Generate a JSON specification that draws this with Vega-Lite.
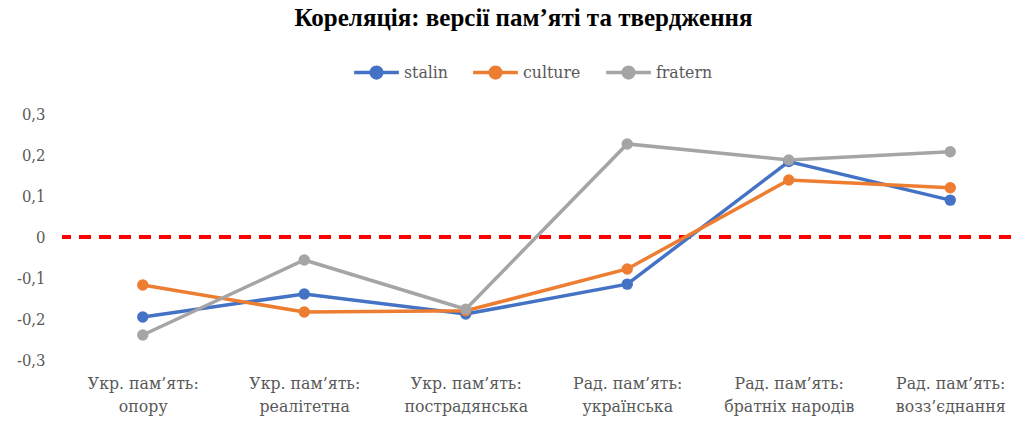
{
  "$schema": "https://vega.github.io/schema/vega-lite/v6.json",
  "width": 969,
  "height": 246,
  "autosize": {"type": "none"},
  "padding": {"left": 62, "top": 114, "right": 0, "bottom": 64},
  "background": "white",
  "title": {
    "text": "Кореляція: версії пам’яті та  твердження",
    "font": "Liberation Serif",
    "fontSize": 25,
    "fontWeight": "bold",
    "color": "#000000",
    "anchor": "middle",
    "dx": -23,
    "offset": 17
  },
  "config": {
    "view": {"stroke": null},
    "axis": {"labelFont": "DejaVu Serif Condensed", "labelFontSize": 16, "labelColor": "#595959", "grid": false, "domain": false, "ticks": false}
  },
  "data": {
    "values": [
      {"cat": "Укр. пам’ять: опору", "series": "stalin", "value": -0.195},
      {"cat": "Укр. пам’ять: опору", "series": "culture", "value": -0.117},
      {"cat": "Укр. пам’ять: опору", "series": "fratern", "value": -0.239},
      {"cat": "Укр. пам’ять: реалітетна", "series": "stalin", "value": -0.139},
      {"cat": "Укр. пам’ять: реалітетна", "series": "culture", "value": -0.183},
      {"cat": "Укр. пам’ять: реалітетна", "series": "fratern", "value": -0.056},
      {"cat": "Укр. пам’ять: пострадянська", "series": "stalin", "value": -0.188},
      {"cat": "Укр. пам’ять: пострадянська", "series": "culture", "value": -0.180},
      {"cat": "Укр. пам’ять: пострадянська", "series": "fratern", "value": -0.176},
      {"cat": "Рад. пам’ять: українська", "series": "stalin", "value": -0.115},
      {"cat": "Рад. пам’ять: українська", "series": "culture", "value": -0.078},
      {"cat": "Рад. пам’ять: українська", "series": "fratern", "value": 0.227},
      {"cat": "Рад. пам’ять: братніх народів", "series": "stalin", "value": 0.184},
      {"cat": "Рад. пам’ять: братніх народів", "series": "culture", "value": 0.139},
      {"cat": "Рад. пам’ять: братніх народів", "series": "fratern", "value": 0.188},
      {"cat": "Рад. пам’ять: возз’єднання", "series": "stalin", "value": 0.090},
      {"cat": "Рад. пам’ять: возз’єднання", "series": "culture", "value": 0.120},
      {"cat": "Рад. пам’ять: возз’єднання", "series": "fratern", "value": 0.208}
    ]
  },
  "layer": [
    {
      "mark": {"type": "rule", "color": "#FF0000", "strokeWidth": 2.5, "strokeDash": [12, 8]},
      "encoding": {"y": {"datum": 0, "type": "quantitative", "scale": {"domain": [-0.3, 0.3]}}}
    },
    {
      "mark": {"type": "line", "strokeWidth": 3.5, "point": {"filled": true, "size": 130, "opacity": 1}},
      "encoding": {
        "x": {
          "field": "cat", "type": "nominal", "sort": null, "title": null,
          "scale": {"paddingInner": 0, "paddingOuter": 0.5},
          "axis": {
            "labelAngle": 0, "labelPadding": 14, "labelLineHeight": 23, "labelLimit": 300, "labelFontSize": 17.5,
            "labelExpr": "[slice(datum.value, 0, indexof(datum.value, ':') + 1), slice(datum.value, indexof(datum.value, ':') + 2)]"
          }
        },
        "y": {
          "field": "value", "type": "quantitative", "title": null,
          "scale": {"domain": [-0.3, 0.3], "nice": false, "zero": false},
          "axis": {
            "values": [-0.3, -0.2, -0.1, 0, 0.1, 0.2, 0.3],
            "labelPadding": 17, "labelFontSize": 16.5,
            "labelExpr": "datum.value == 0 ? '0' : replace(replace(format(datum.value, '.1f'), '.', ','), '−', '-')"
          }
        },
        "color": {
          "field": "series", "type": "nominal",
          "scale": {"domain": ["stalin", "culture", "fratern"], "range": ["#4472C4", "#ED7D31", "#A5A5A5"]},
          "legend": {
            "title": null, "orient": "none", "direction": "horizontal",
            "legendX": 290, "legendY": -66,
            "labelFont": "DejaVu Serif Condensed", "labelFontSize": 17.5, "labelColor": "#595959",
            "symbolType": "M-1,0L1,0M0.24,0A0.24,0.24,0,1,1,-0.24,0A0.24,0.24,0,1,1,0.24,0Z",
            "symbolSize": 2000, "symbolStrokeWidth": 3.5, "columnPadding": 18, "labelOffset": 3,
            "encode": {"symbols": {"update": {"fill": {"scale": "color", "field": "value"}, "stroke": {"scale": "color", "field": "value"}, "opacity": {"value": 1}}}}
          }
        }
      }
    }
  ]
}
